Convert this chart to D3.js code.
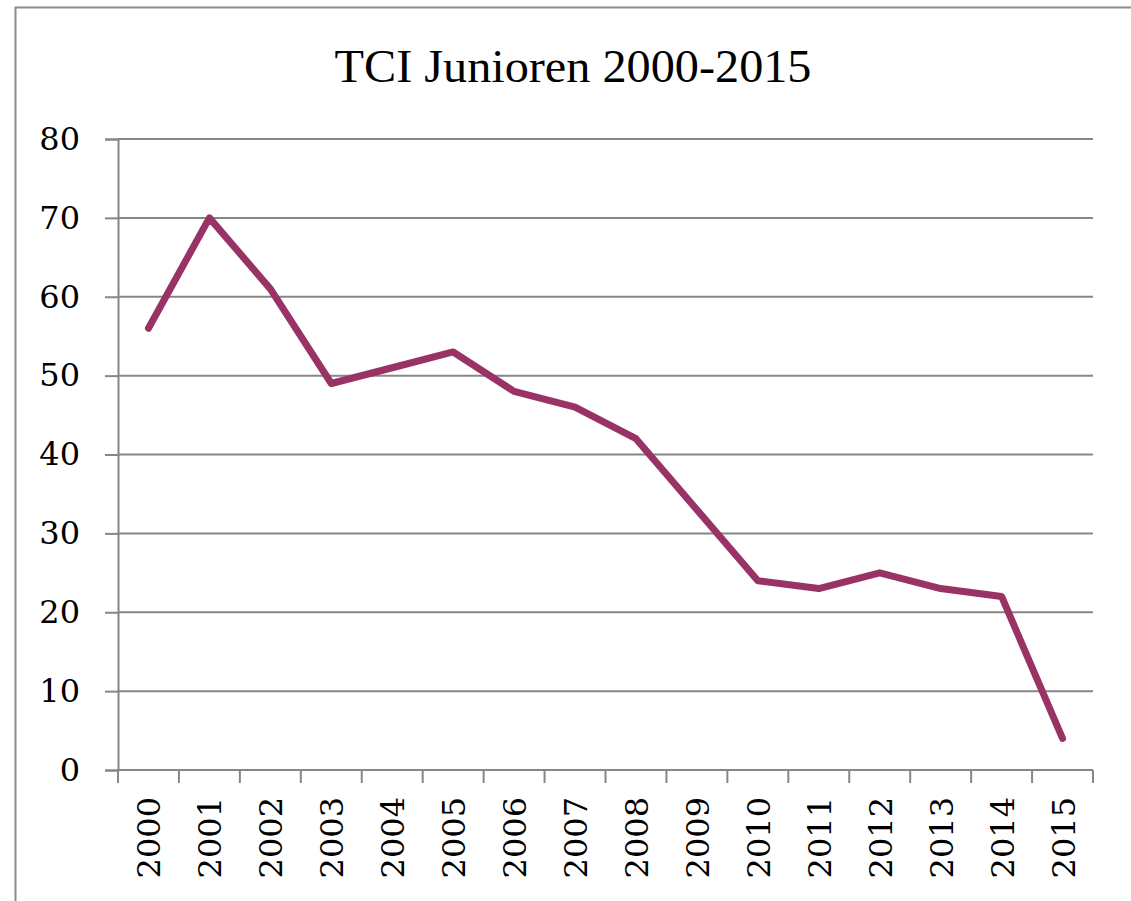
<!DOCTYPE html>
<html>
<head>
<meta charset="utf-8">
<script src="https://cdn.jsdelivr.net/npm/d3@7"></script>
<style>
  body { margin: 0; background: #fff; }
  text { font-family: "DejaVu Serif", "Liberation Serif", serif; fill: #000; }
</style>
</head>
<body>
<div id="chart"></div>
<script>
// data
var years = ["2000","2001","2002","2003","2004","2005","2006","2007","2008","2009","2010","2011","2012","2013","2014","2015"]
var players = [56, 70, 61, 49, 51, 53, 48, 46, 42, 33, 24, 23, 25, 23, 22, 4]
var yTicks = [0, 10, 20, 30, 40, 50, 60, 70, 80]
var title = "TCI Junioren 2000-2015"

var width = 1131
var height = 901
var margin = {left: 118, right: 38, top: 139, bottom: 131}

var svg = d3.select("#chart").append("svg")
  .attr("width", width).attr("height", height)

// outer chart frame (only top and left edges show)
svg.append("path")
  .attr("d", "M15.5," + height + " V7.5 H" + width)
  .attr("fill", "none").attr("stroke", "#8c8c8c").attr("stroke-width", 2)

var xScale = d3.scaleBand().domain(years)
  .range([margin.left, width - margin.right])
var yScale = d3.scaleLinear().domain([0, 80])
  .range([height - margin.bottom, margin.top])

// gridlines + y ticks
var yAxis = svg.append("g")
  .attr("transform", "translate(" + margin.left + ",0)")
  .call(d3.axisLeft(yScale).tickValues(yTicks).tickSize(13).tickPadding(25))
yAxis.select(".domain").attr("stroke", "#868686").attr("stroke-width", 2)
yAxis.selectAll(".tick line").attr("stroke", "#868686").attr("stroke-width", 2)
yAxis.selectAll("text").style("font-size", "32px")
  .style("font-family", "DejaVu Serif").attr("fill", "#000")

svg.append("g").selectAll("line.grid")
  .data(yTicks.filter(function(d){ return d > 0 }))
  .enter().append("line")
  .attr("class", "grid")
  .attr("x1", margin.left).attr("x2", width - margin.right)
  .attr("y1", function(d){ return yScale(d) }).attr("y2", function(d){ return yScale(d) })
  .attr("stroke", "#868686").attr("stroke-width", 2)

// x axis: ticks between categories
var xAxisG = svg.append("g")
  .attr("transform", "translate(0," + (height - margin.bottom) + ")")
xAxisG.append("line")
  .attr("x1", margin.left).attr("x2", width - margin.right)
  .attr("stroke", "#868686").attr("stroke-width", 2)
var bounds = years.map(function(d){ return xScale(d) })
bounds.push(xScale(years[years.length - 1]) + xScale.bandwidth())
xAxisG.selectAll("line.xtick")
  .data(bounds).enter().append("line")
  .attr("class", "xtick")
  .attr("x1", function(d){ return d }).attr("x2", function(d){ return d })
  .attr("y1", 0).attr("y2", 13)
  .attr("stroke", "#868686").attr("stroke-width", 2)

xAxisG.selectAll("text.year")
  .data(years).enter().append("text")
  .attr("class", "year")
  .attr("transform", function(d){
    return "translate(" + (xScale(d) + xScale.bandwidth() / 2 + 12) + ",27) rotate(-90)"
  })
  .attr("text-anchor", "end")
  .style("font-size", "32px")
  .text(function(d){ return d })

// the line
var line = d3.line()
  .x(function(d, i){ return xScale(years[i]) + xScale.bandwidth() / 2 })
  .y(function(d){ return yScale(d) })

svg.append("path")
  .datum(players)
  .attr("d", line)
  .attr("fill", "none")
  .attr("stroke", "#993366")
  .attr("stroke-width", 7)
  .attr("stroke-linejoin", "round")
  .attr("stroke-linecap", "round")

// title
svg.append("text")
  .attr("x", 573)
  .attr("y", 82)
  .attr("text-anchor", "middle")
  .attr("textLength", 477)
  .attr("lengthAdjust", "spacingAndGlyphs")
  .style("font-size", "46px")
  .style("font-family", "Liberation Serif")
  .text(title)
</script>
</body>
</html>
